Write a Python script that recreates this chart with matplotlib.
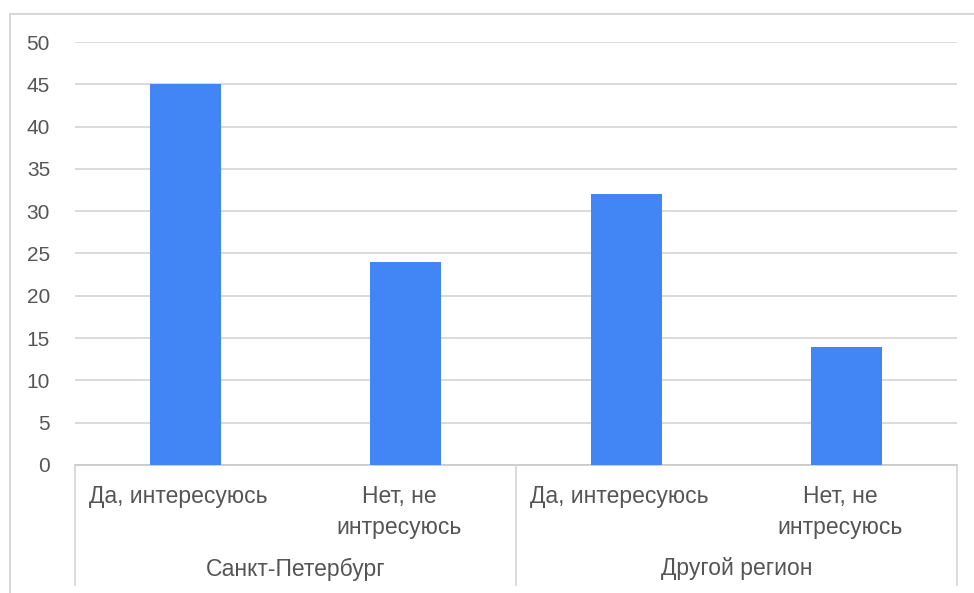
import matplotlib.pyplot as plt
import matplotlib.transforms as mtransforms
from matplotlib.lines import Line2D
from matplotlib.patches import Rectangle

plt.rcParams['font.family'] = ['Liberation Sans', 'DejaVu Sans']

groups = ['Санкт-Петербург', 'Другой регион']
answers = ['Да, интересуюсь', 'Нет, не\nинтресуюсь',
           'Да, интересуюсь', 'Нет, не\nинтресуюсь']
values = [45, 24, 32, 14]

bar_color = '#4285F4'
text_color = '#555555'
line_color = '#d4d4d4'

W, H = 974, 593
fig = plt.figure(figsize=(W / 100, H / 100), dpi=100)

# outer chart frame
fig.add_artist(Rectangle((10 / W, -0.1), 1.2, 1 - 14 / H + 0.1,
                         transform=fig.transFigure, fill=False,
                         edgecolor='#d0d0d0', linewidth=1.2))

left, right, top, bottom = 75, 957, 42, 465
ax = fig.add_axes([left / W, 1 - bottom / H, (right - left) / W, (bottom - top) / H])

x = range(len(values))
ax.bar(x, values, width=0.32, color=bar_color, zorder=3)

ax.set_xlim(-0.5, len(values) - 0.5)
ax.set_ylim(0, 50)
ax.set_yticks(range(0, 51, 5))
ax.yaxis.grid(True, color=line_color, linewidth=1.2, zorder=0)
ax.tick_params(axis='y', length=0, pad=18, labelsize=15, labelcolor=text_color)
ax.set_xticks([])
for s in ['top', 'right', 'left']:
    ax.spines[s].set_visible(False)
ax.spines['bottom'].set_color('#c8c8c8')
ax.spines['bottom'].set_linewidth(1.2)

trans = mtransforms.blended_transform_factory(ax.transData, fig.transFigure)

# answer labels under each bar
for i, lab in enumerate(answers):
    ax.text(i - 0.03, 1 - 485 / H, lab, transform=trans, ha='center', va='top',
            fontsize=16.5, color=text_color, linespacing=1.45)

# group labels and separators
for g, name in enumerate(groups):
    ax.text(2 * g + 0.5, 1 - 569 / H, name, transform=trans, ha='center',
            va='center', fontsize=16.5, color=text_color)
for xs in [-0.5, 1.5, 3.5]:
    fig.add_artist(Line2D([xs, xs], [1 - 465 / H, 1 - 585 / H], transform=trans,
                          color=line_color, linewidth=1.2))

fig.savefig('out.png', dpi=100)
